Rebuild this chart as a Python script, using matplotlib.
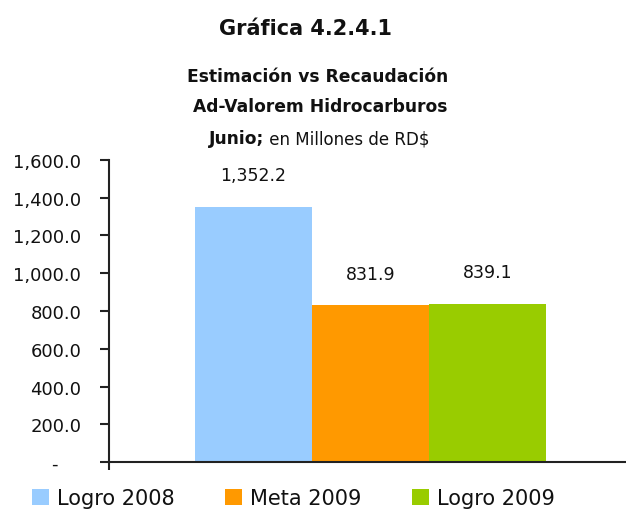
import matplotlib
matplotlib.use("Agg")
import matplotlib.pyplot as plt

series = ["Logro 2008", "Meta 2009", "Logro 2009"]
values = [1352.2, 831.9, 839.1]
colors = ["#99CCFF", "#FF9900", "#99CC00"]
yticks = [0, 200, 400, 600, 800, 1000, 1200, 1400, 1600]
ytick_labels = ["-    ", "200.0", "400.0", "600.0", "800.0", "1,000.0",
                "1,200.0", "1,400.0", "1,600.0"]

W, H = 626, 510
fig = plt.figure(figsize=(W / 100, H / 100), dpi=100)
ax = fig.add_axes([109 / W, 1 - 463.3 / H, 1 - 109 / W, (463.3 - 160.7) / H])

for i, (name, v, c) in enumerate(zip(series, values, colors)):
    ax.bar(i, v, width=1.0, color=c, label=name, zorder=2)
    ax.annotate(f"{v:,.1f}", (i, v), xytext=(0, 22.5), textcoords="offset points",
                ha="center", va="center", fontsize=12.5, color="#111111")

ax.set_ylim(0, 1600)
ax.set_xlim(-1.235, 3.184)
ax.set_yticks(yticks)
ax.set_yticklabels(ytick_labels, fontsize=13, color="#111111")
ax.set_xticks([-1.235])
ax.set_xticklabels([])

for s in ["top", "right"]:
    ax.spines[s].set_visible(False)
for s in ["left", "bottom"]:
    ax.spines[s].set_linewidth(1.5)
    ax.spines[s].set_color("#222222")
    ax.spines[s].set_zorder(3)
ax.tick_params(axis="y", direction="out", length=6.5, width=1.5, color="#222222", pad=13.5)
ax.tick_params(axis="x", direction="out", length=5.5, width=1.5, color="#222222")

# titles
fig.text(305.5 / W, 1 - 35 / H, "Gráfica 4.2.4.1", ha="center", va="baseline",
         fontsize=15, fontweight="bold", color="#111111")
fig.text(318 / W, 1 - 82.5 / H, "Estimación vs Recaudación", ha="center", va="baseline",
         fontsize=12.3, fontweight="bold", color="#111111")
fig.text(320 / W, 1 - 111.7 / H, "Ad-Valorem Hidrocarburos", ha="center", va="baseline",
         fontsize=12.3, fontweight="bold", color="#111111")

t1 = fig.text(0.5, 1 - 144.5 / H, "Junio;", ha="left", va="baseline",
              fontsize=12.3, fontweight="bold", color="#111111")
t2 = fig.text(0.5, 1 - 144.5 / H, " en Millones de RD$", ha="left", va="baseline",
              fontsize=12, color="#111111")
fig.canvas.draw()
r = fig.canvas.get_renderer()
w1 = t1.get_window_extent(r).width
w2 = t2.get_window_extent(r).width
x0 = 319 - (w1 + w2) / 2
t1.set_x(x0 / W)
t2.set_x((x0 + w1) / W)

# legend kept fully inside the image
leg = fig.legend(loc="center left", bbox_to_anchor=(32 / W, 1 - 499.5 / H), ncol=3,
                 frameon=False, fontsize=15, handlelength=0.82, handleheight=0.82,
                 handletextpad=0.39, columnspacing=2.42, borderpad=0, borderaxespad=0)
for t in leg.get_texts():
    t.set_color("#111111")

fig.savefig("out.png", dpi=100)
